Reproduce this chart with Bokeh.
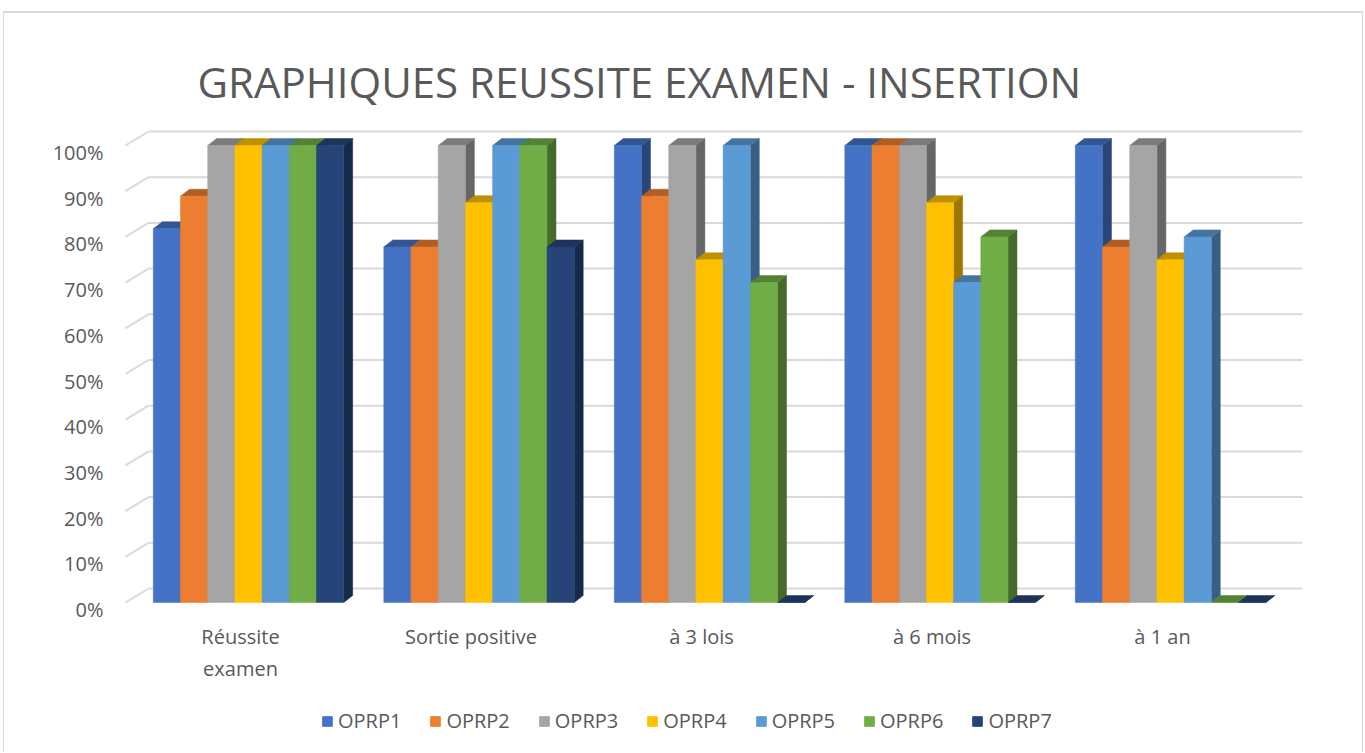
from bokeh.plotting import figure
from bokeh.layouts import column
from bokeh.models import (ColumnDataSource, FixedTicker, NumeralTickFormatter, Legend, LegendItem,
                          Range1d, LinearAxis)
from bokeh.embed import file_html
from bokeh.resources import INLINE

# ---------------- data ----------------
categories = ["Réussite examen", "Sortie positive", "à 3 lois", "à 6 mois", "à 1 an"]
category_ticks = ["Réussite\nexamen", "Sortie positive", "à 3 lois", "à 6 mois", "à 1 an"]
series_names = ["OPRP1", "OPRP2", "OPRP3", "OPRP4", "OPRP5", "OPRP6", "OPRP7"]
oprp1 = [0.818, 0.778, 1.00, 1.00, 1.00]
oprp2 = [0.889, 0.778, 0.889, 1.00, 0.778]
oprp3 = [1.00, 1.00, 1.00, 1.00, 1.00]
oprp4 = [1.00, 0.875, 0.75, 0.875, 0.75]
oprp5 = [1.00, 1.00, 1.00, 0.70, 0.80]
oprp6 = [1.00, 1.00, 0.70, 0.80, 0.00]
oprp7 = [1.00, 0.778, 0.00, 0.00, 0.00]
series_values = [oprp1, oprp2, oprp3, oprp4, oprp5, oprp6, oprp7]
colors = ["#4472C4", "#ED7D31", "#A5A5A5", "#FFC000", "#5B9BD5", "#70AD47", "#264478"]
y_ticks = [0.0, 0.1, 0.2, 0.3, 0.4, 0.5, 0.6, 0.7, 0.8, 0.9, 1.0]
title_text = "GRAPHIQUES REUSSITE EXAMEN - INSERTION"

# ---------------- geometry (canvas pixels -> data units) ----------------
W = 1364
H_MAIN, H_LEG = 700, 52
FRAME_L, FRAME_R = 118, 1305
FRAME_T, FRAME_B = 125, 609
PX_PER_CAT = 230.5
PX_PER_UNIT = 457.0
LABEL0_X = 240.0
ZERO_Y = 602.0
LABEL_DROP = 7.0 / PX_PER_UNIT   # value labels sit slightly below the front tick ends

x_start = (FRAME_L - LABEL0_X) / PX_PER_CAT
x_end = (FRAME_R - LABEL0_X) / PX_PER_CAT
y_start = (ZERO_Y - FRAME_B) / PX_PER_UNIT
y_end = (ZERO_Y - FRAME_T) / PX_PER_UNIT

GROUP_SHIFT = 8.0 / PX_PER_CAT
BAR_W = 27.2 / PX_PER_CAT
BAR_DX = 9.0 / PX_PER_CAT
BAR_DY = 7.0 / PX_PER_UNIT
FLOOR_DX = 23.0 / PX_PER_CAT
FLOOR_DY = 14.0 / PX_PER_UNIT
GRID_X0 = (125.0 - LABEL0_X) / PX_PER_CAT
GRID_X1 = GRID_X0 + FLOOR_DX
GRID_XEND = (1302.0 - LABEL0_X) / PX_PER_CAT

TEXT_COLOR = "#595959"
FONT = "Open Sans"


def shade(hex_color, f):
    h = hex_color.lstrip("#")
    r, g, b = (int(h[i:i + 2], 16) for i in (0, 2, 4))
    return "#%02x%02x%02x" % (int(r * f), int(g * f), int(b * f))


p = figure(width=W, height=H_MAIN, x_range=Range1d(x_start, x_end), y_range=Range1d(y_start, y_end),
           output_backend="svg", toolbar_location=None, y_axis_location=None,
           min_border_left=FRAME_L, min_border_right=W - FRAME_R,
           min_border_top=FRAME_T, min_border_bottom=H_MAIN - FRAME_B)
p.outline_line_color = None
p.xgrid.visible = False
p.ygrid.visible = False
p.background_fill_alpha = 0
p.border_fill_alpha = 0

# ---------------- 3D back wall gridlines ----------------
grid_src = ColumnDataSource(dict(
    x0=[GRID_X1] * len(y_ticks), y0=[v + FLOOR_DY for v in y_ticks],
    x1=[GRID_XEND] * len(y_ticks), y1=[v + FLOOR_DY for v in y_ticks]))
p.segment("x0", "y0", "x1", "y1", source=grid_src, line_color="#D9D9D9", line_width=2)
diag_src = ColumnDataSource(dict(
    x0=[GRID_X0] * len(y_ticks), y0=list(y_ticks),
    x1=[GRID_X1] * len(y_ticks), y1=[v + FLOOR_DY for v in y_ticks]))
p.segment("x0", "y0", "x1", "y1", source=diag_src, line_color="#D9D9D9", line_width=2)

# ---------------- bars (sides, tops, fronts) ----------------
n = len(series_names)
front_sources = []
for k, vals in enumerate(series_values):
    lefts = [i + GROUP_SHIFT + (k - n / 2.0) * BAR_W for i in range(len(vals))]
    front_sources.append(ColumnDataSource(dict(
        left=lefts, right=[xl + BAR_W for xl in lefts], top=list(vals), bottom=[0.0] * len(vals))))

side_xs, side_ys, side_c = [], [], []
top_xs, top_ys, top_c = [], [], []
for i in range(len(categories)):
    for k, (vals, col) in enumerate(zip(series_values, colors)):
        v = vals[i]
        xl = i + GROUP_SHIFT + (k - n / 2.0) * BAR_W
        xr = xl + BAR_W
        side_xs.append([xr, xr, xr + BAR_DX, xr + BAR_DX])
        side_ys.append([0.0, v, v + BAR_DY, BAR_DY])
        side_c.append(shade(col, 0.62))
        top_xs.append([xl, xr, xr + BAR_DX, xl + BAR_DX])
        top_ys.append([v, v, v + BAR_DY, v + BAR_DY])
        top_c.append(shade(col, 0.75))

p.patches("xs", "ys", source=ColumnDataSource(dict(xs=side_xs, ys=side_ys, c=side_c)),
          fill_color="c", line_color="c", line_width=0.5)
p.patches("xs", "ys", source=ColumnDataSource(dict(xs=top_xs, ys=top_ys, c=top_c)),
          fill_color="c", line_color="c", line_width=0.5)

for src, col in zip(front_sources, colors):
    p.quad(left="left", right="right", top="top", bottom="bottom", source=src,
           fill_color=col, line_color=col, line_width=0.5)

# ---------------- axes ----------------
p.extra_y_ranges = {"labels": Range1d(y_start + LABEL_DROP, y_end + LABEL_DROP)}
yax = LinearAxis(y_range_name="labels", ticker=FixedTicker(ticks=y_ticks),
                 formatter=NumeralTickFormatter(format="0%"),
                 axis_line_color=None, major_tick_line_color=None, minor_tick_line_color=None,
                 major_label_text_font_size="20px", major_label_text_font=FONT,
                 major_label_text_color=TEXT_COLOR, major_label_standoff=9)
p.add_layout(yax, "left")

p.xaxis.ticker = FixedTicker(ticks=list(range(len(categories))))
p.xaxis.major_label_overrides = {i: lab for i, lab in enumerate(category_ticks)}
p.xaxis.axis_line_color = None
p.xaxis.major_tick_line_color = None
p.xaxis.minor_tick_line_color = None
p.xaxis.major_label_text_font_size = "20px"
p.xaxis.major_label_text_font = FONT
p.xaxis.major_label_text_color = TEXT_COLOR
p.xaxis.major_label_standoff = 7

# ---------------- title ----------------
p.title.text = title_text
p.title.text_font = FONT
p.title.text_font_size = "42px"
p.title.text_font_style = "normal"
p.title.text_color = TEXT_COLOR
p.title.align = "left"
p.title.offset = 79
p.title.standoff = 32

# ---------------- legend (own strip under the chart) ----------------
pl = figure(width=W, height=H_LEG, x_range=Range1d(100, 101), y_range=Range1d(100, 101),
            output_backend="svg", toolbar_location=None, x_axis_type=None, y_axis_type=None,
            min_border_left=0, min_border_right=0, min_border_top=0, min_border_bottom=0)
pl.outline_line_color = None
pl.xgrid.visible = False
pl.ygrid.visible = False
pl.background_fill_alpha = 0
pl.border_fill_alpha = 0
legend_items = []
for name, src, col in zip(series_names, front_sources, colors):
    r = pl.quad(left="left", right="right", top="top", bottom="bottom", source=src,
                fill_color=col, line_color=col)
    legend_items.append(LegendItem(label=name, renderers=[r]))
legend = Legend(items=legend_items, orientation="horizontal", location=(203, 18),
                label_text_font_size="20px", label_text_font=FONT, label_text_color=TEXT_COLOR,
                glyph_width=12, glyph_height=12, label_standoff=5, spacing=28,
                padding=0, margin=0, border_line_color=None, background_fill_alpha=0)
pl.add_layout(legend, "center")

layout = column(p, pl, spacing=0)
# light grey chart-area border (top, left, right)
layout.styles = {
    "background-color": "white",
    "background-image": "linear-gradient(#D9D9D9,#D9D9D9), linear-gradient(#D9D9D9,#D9D9D9), "
                        "linear-gradient(#D9D9D9,#D9D9D9)",
    "background-size": "1360px 2px, 1px 760px, 1px 760px",
    "background-position": "3px 11px, 3px 11px, 1362px 11px",
    "background-repeat": "no-repeat",
}

open("out.html", "w").write(file_html(layout, INLINE))
